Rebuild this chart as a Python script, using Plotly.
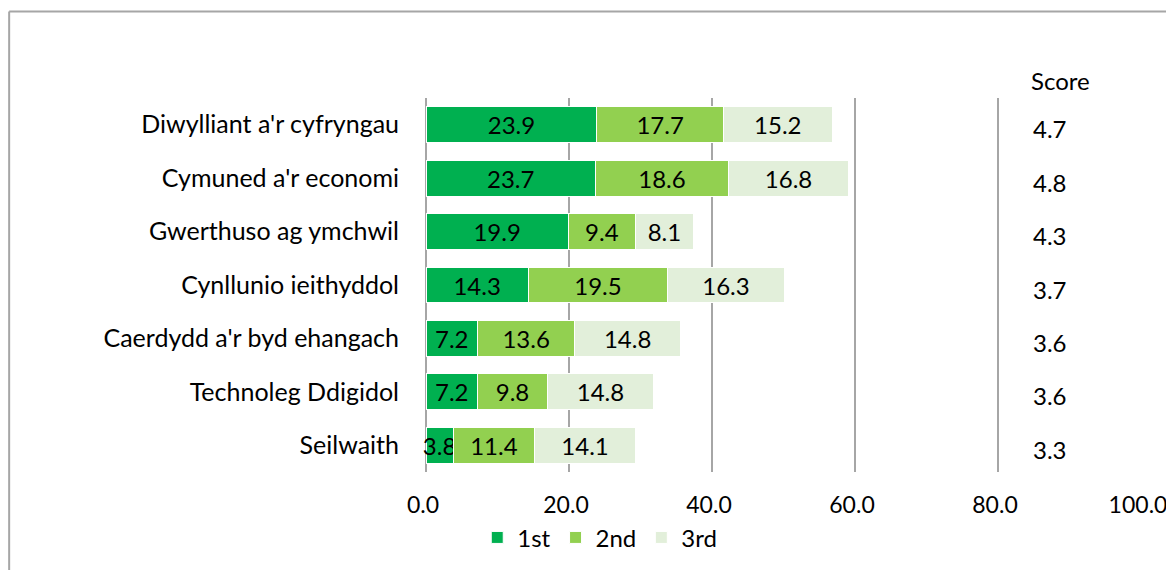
import plotly.graph_objects as go

categories = ["Diwylliant a'r cyfryngau", "Cymuned a'r economi", "Gwerthuso ag ymchwil",
              "Cynllunio ieithyddol", "Caerdydd a'r byd ehangach", "Technoleg Ddigidol", "Seilwaith"]
first = [23.9, 23.7, 19.9, 14.3, 7.2, 7.2, 3.8]
second = [17.7, 18.6, 9.4, 19.5, 13.6, 9.8, 11.4]
third = [15.2, 16.8, 8.1, 16.3, 14.8, 14.8, 14.1]
scores = [4.7, 4.8, 4.3, 3.7, 3.6, 3.6, 3.3]
series_names = ["1st", "2nd", "3rd"]
colors = ["#00B050", "#92D050", "#E2EFDA"]
tickvals = [0, 20, 40, 60, 80, 100]
ticktext = ["0.0", "20.0", "40.0", "60.0", "80.0", "100.0"]

FONT = "Lato"
FS = 24
fig = go.Figure()
for name, vals, col in zip(series_names, [first, second, third], colors):
    fig.add_trace(go.Bar(
        y=categories, x=vals, name=name, orientation="h",
        marker=dict(color=col, line=dict(color="white", width=1)),
        text=[f"{v:.1f}" for v in vals], textposition="inside", textangle=0,
        insidetextanchor="middle", textfont=dict(color="black", size=FS, family=FONT),
        width=0.67, cliponaxis=False,
    ))

for cat, s in zip(categories, scores):
    fig.add_annotation(x=87.3, y=cat, xref="x", yref="y", text=f"{s:.1f}", showarrow=False,
                       yshift=-4, yanchor="middle", font=dict(size=FS, color="black", family=FONT))
fig.add_annotation(x=88.8, y=1.0455, xref="x", yref="paper", text="Score", showarrow=False,
                   yanchor="middle", font=dict(size=FS, color="black", family=FONT))

# outer frame (partially visible)
fig.add_shape(type="line", xref="paper", yref="paper", x0=-0.583, x1=-0.583, y0=-1, y1=1.231,
              line=dict(color="#A6A6A6", width=2))
fig.add_shape(type="line", xref="paper", yref="paper", x0=-0.583, x1=1.2, y0=1.231, y1=1.231,
              line=dict(color="#A6A6A6", width=2))

fig.update_layout(
    width=1166, height=562, barmode="stack",
    margin=dict(l=418, r=33, t=90, b=98, autoexpand=False),
    paper_bgcolor="white", plot_bgcolor="white",
    font=dict(family=FONT, size=FS, color="black"),
    uniformtext=dict(minsize=FS, mode="show"),
    legend=dict(orientation="h", x=0.243, xanchor="center", y=-0.176, yanchor="middle",
                bgcolor="rgba(0,0,0,0)",
                font=dict(size=FS, family=FONT), traceorder="normal", itemwidth=30),
    xaxis=dict(range=[0, 100], tickvals=tickvals, ticktext=ticktext, showgrid=True,
               gridcolor="#A6A6A6", gridwidth=1.5, zeroline=True, zerolinecolor="#A6A6A6",
               zerolinewidth=1.5, showline=False, ticks="", ticklabelstandoff=17,
               ticklabelshift=-3,
               automargin=False, tickfont=dict(size=23, family=FONT)),
    yaxis=dict(autorange="reversed", showgrid=False, showline=False, ticks="",
               ticklabelstandoff=26, automargin=False, tickfont=dict(size=25, family=FONT)),
)
fig.write_html("out.html")
